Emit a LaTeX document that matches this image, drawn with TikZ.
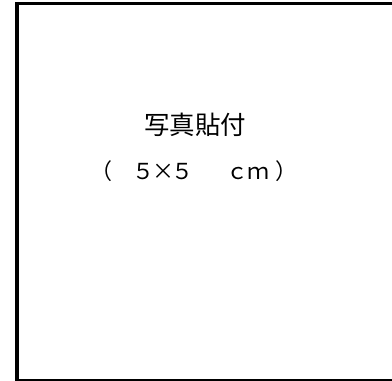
\documentclass[tikz,border=0pt]{standalone}
\usepackage{fontspec}
\newfontfamily\jpfont{Noto Sans CJK JP}
\newcommand{\cc}[1]{\makebox[0pt][c]{#1}}
\begin{document}
\begin{tikzpicture}[x=1pt,y=1pt,
  frameline/.style={black,line cap=butt},
  label/.style={font=\jpfont, inner sep=0pt, anchor=base west}]
\useasboundingbox (0,0) rectangle (392,381);
\fill[white] (0,0) rectangle (392,381);
% frame (right side lies outside the picture)
\coordinate (tl) at (17,377.7);
\coordinate (bl) at (17,1);
\coordinate (tr) at (400,377.7);
\coordinate (br) at (400,1);
\draw[frameline, line width=2.7pt] ([xshift=-1.7pt]tl) -- (tr);
\draw[frameline, line width=2pt] ([xshift=-1.7pt]bl) -- (br);
\draw[frameline, line width=3.4pt] ([yshift=1.35pt]tl) -- ([yshift=-1pt]bl);
% texts
\node[label, font=\jpfont\fontsize{25.5}{25.5}\selectfont] (title) at (144,246) {写真貼付};
\node[label, font=\jpfont\fontsize{22}{22}\selectfont] (size) at (112,201)
  {\makebox[0pt][r]{（}\hspace{31.5pt}\cc{５}\hspace{19.5pt}\cc{×}\hspace{19.5pt}\cc{５}\hspace{54.5pt}\cc{ｃ}\hspace{21.5pt}\cc{ｍ}\hspace{16.5pt}\makebox[0pt][l]{）}};
\end{tikzpicture}
\end{document}
